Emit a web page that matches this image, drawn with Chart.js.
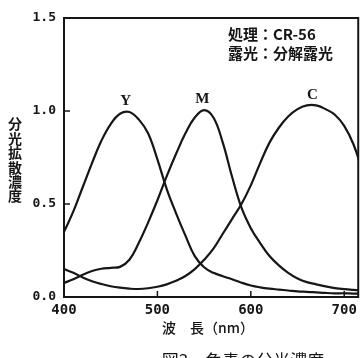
<!DOCTYPE html>
<html>
<head>
<meta charset="utf-8">
<script src="https://cdn.jsdelivr.net/npm/chart.js@4/dist/chart.umd.min.js"></script>
<style>
  html, body { margin: 0; padding: 0; background: #fff; }
  canvas { display: block; }
</style>
</head>
<body>
<canvas id="c" width="362" height="358"></canvas>
<script>
// Wavelength grid (nm)
const wavelengths = [400,410,420,430,440,450,460,470,480,490,500,510,520,530,540,550,560,570,580,590,600,610,620,630,640,650,660,670,680,690,700,710,720];

// Spectral diffuse density of the three dyes
const yellowDensity = [0.35,0.46,0.59,0.72,0.84,0.93,0.985,0.995,0.955,0.88,0.74,0.58,0.45,0.33,0.22,0.16,0.13,0.112,0.095,0.077,0.062,0.052,0.045,0.04,0.035,0.03,0.028,0.025,0.022,0.02,0.02,0.018,0.018];
const magentaDensity = [0.076,0.095,0.12,0.14,0.152,0.157,0.162,0.2,0.29,0.4,0.52,0.65,0.77,0.88,0.965,1.005,0.965,0.83,0.645,0.48,0.37,0.29,0.22,0.17,0.13,0.1,0.08,0.068,0.057,0.048,0.042,0.038,0.035];
const cyanDensity = [0.15,0.13,0.105,0.085,0.07,0.058,0.05,0.045,0.043,0.047,0.055,0.068,0.087,0.113,0.15,0.2,0.26,0.34,0.42,0.5,0.6,0.72,0.83,0.91,0.97,1.01,1.03,1.03,1.01,0.98,0.92,0.82,0.67];

// Curve names with the wavelength / density where each name sits
const curveNames = ['Y', 'M', 'C'];
const curveNameAt = [[466, 1.0], [548, 1.01], [666, 1.03]];

// Axis range and ticks
const xRange = [400, 715];
const yRange = [0, 1.5];
const xTickStep = 100;
const yTickStep = 0.5;

// Texts
const yAxisTitle = '分光拡散濃度';
const xAxisTitle = '波　長（nm）';
const figureCaption = '図3　色素の分光濃度';
const noteLines = ['処理：CR-56', '露光：分解露光'];

const INK = '#161616';
const CJK = '"Noto Sans CJK JP", "Noto Sans CJK SC", sans-serif';
const MONO = '"DejaVu Sans Mono", "Liberation Mono", monospace';

function series(values) {
  return wavelengths.map((w, i) => ({ x: w, y: values[i] }));
}

const lineStyle = {
  borderColor: INK,
  borderWidth: 2.2,
  pointRadius: 0,
  fill: false,
  tension: 0.4
};

const frame = {
  id: 'frame',
  afterDatasetsDraw(chart) {
    const { ctx, chartArea: a, scales } = chart;
    const xs = scales.x, ys = scales.y;
    ctx.save();
    ctx.strokeStyle = INK;
    ctx.lineWidth = 2;
    ctx.lineCap = 'square';
    ctx.beginPath();
    ctx.moveTo(a.left, a.top);
    ctx.lineTo(a.right, a.top);
    ctx.lineTo(a.right, a.bottom);
    ctx.stroke();

    // inward tick marks
    ctx.lineWidth = 1.5;
    ctx.lineCap = 'butt';
    ys.ticks.forEach(t => {
      if (t.value <= yRange[0] || t.value >= yRange[1]) return;
      const py = ys.getPixelForValue(t.value);
      ctx.beginPath();
      ctx.moveTo(a.left, py);
      ctx.lineTo(a.left + 6, py);
      ctx.stroke();
    });
    xs.ticks.forEach(t => {
      if (t.value <= xRange[0]) return;
      const px = xs.getPixelForValue(t.value);
      ctx.beginPath();
      ctx.moveTo(px, a.bottom);
      ctx.lineTo(px, a.bottom - 6);
      ctx.stroke();
    });

    ctx.fillStyle = INK;
    // curve names
    ctx.font = 'bold 15px "Liberation Serif", "DejaVu Serif", serif';
    ctx.textAlign = 'center';
    ctx.textBaseline = 'alphabetic';
    curveNames.forEach((n, i) => {
      const [w, d] = curveNameAt[i];
      ctx.fillText(n, xs.getPixelForValue(w), ys.getPixelForValue(d) - 6);
    });

    // note in the upper right
    ctx.font = 'bold 15px ' + CJK;
    ctx.textAlign = 'left';
    ctx.textBaseline = 'middle';
    noteLines.forEach((s, i) => ctx.fillText(s, 228, 34 + i * 19));

    // vertical y-axis title
    ctx.font = 'bold 14px ' + CJK;
    ctx.textAlign = 'center';
    ctx.textBaseline = 'middle';
    [...yAxisTitle].forEach((ch, i) => ctx.fillText(ch, 15, 124 + i * 14.4));

    // x-axis title and caption
    ctx.font = '500 14px ' + CJK;
    ctx.fillText(xAxisTitle, 208, 328);
    ctx.font = '17px ' + CJK;
    ctx.fillText(figureCaption, 243, 361);
    ctx.restore();
  }
};

new Chart(document.getElementById('c'), {
  type: 'line',
  data: {
    datasets: [
      { label: 'Y', data: series(yellowDensity), ...lineStyle },
      { label: 'M', data: series(magentaDensity), ...lineStyle },
      { label: 'C', data: series(cyanDensity), ...lineStyle }
    ]
  },
  options: {
    responsive: false,
    devicePixelRatio: 1,
    animation: false,
    layout: { padding: { top: 18, right: 3, left: 0, bottom: 0 } },
    plugins: { legend: { display: false }, tooltip: { enabled: false } },
    scales: {
      x: {
        type: 'linear',
        min: xRange[0],
        max: xRange[1],
        afterFit(s) { s.height = 61; },
        grid: { display: false, drawTicks: false },
        border: { display: true, color: INK, width: 2 },
        ticks: {
          stepSize: xTickStep,
          includeBounds: false,
          padding: 5,
          color: INK,
          font: { family: MONO, size: 14, weight: 'bold' },
          maxRotation: 0,
          callback: v => (v % 100 === 0 ? String(v) : '')
        }
      },
      y: {
        type: 'linear',
        min: yRange[0],
        max: yRange[1],
        afterFit(s) { s.width = 64; },
        grid: { display: false, drawTicks: false },
        border: { display: true, color: INK, width: 2 },
        ticks: {
          stepSize: yTickStep,
          padding: 8,
          color: INK,
          font: { family: MONO, size: 13, weight: 'bold' },
          callback: v => v.toFixed(1)
        }
      }
    }
  },
  plugins: [frame]
});
</script>
</body>
</html>
